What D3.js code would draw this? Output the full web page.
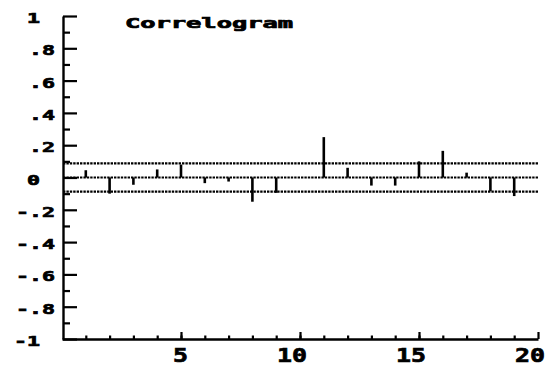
<!DOCTYPE html>
<html>
<head>
<meta charset="utf-8">
<script src="https://cdn.jsdelivr.net/npm/d3@7/dist/d3.min.js"></script>
<style>
  html, body { margin: 0; padding: 0; background: #fff; }
  svg { display: block; }
  text { font-family: "DejaVu Sans Mono", "Liberation Mono", monospace; font-weight: bold; fill: #000; stroke: #000; stroke-width: 0.7px; }
</style>
</head>
<body>
<svg id="chart" width="553" height="372"></svg>
<script>
// Autocorrelation at each lag
const lags = [1, 2, 3, 4, 5, 6, 7, 8, 9, 10, 11, 12, 13, 14, 15, 16, 17, 18, 19];
const acf = [0.045, -0.10, -0.045, 0.05, 0.08, -0.035, -0.025, -0.15, -0.095, 0.0,
             0.25, 0.06, -0.05, -0.05, 0.10, 0.165, 0.03, -0.085, -0.115];

// Confidence band (+/-) and zero line
const bandLevels = [0.088, 0, -0.088];

// Axis ticks and labels
const yMajor = [1, 0.8, 0.6, 0.4, 0.2, 0, -0.2, -0.4, -0.6, -0.8, -1];
const yMinor = [0.9, 0.7, 0.5, 0.3, 0.1, -0.1, -0.3, -0.5, -0.7, -0.9];
const yLabels = ["1", ".8", ".6", ".4", ".2", "0", "-.2", "-.4", "-.6", "-.8", "-1"];
const xMajor = [5, 10, 15, 20];
const xMinor = d3.range(1, 20);
const xLabels = ["5", "10", "15", "20"];
const title = "Correlogram";

const svg = d3.select("#chart");

const x = d3.scaleLinear().domain([0, 20]).range([62, 538]);
const y = d3.scaleLinear().domain([-1, 1]).range([339, 16]);

// Y axis: line with ticks pointing right
const yAxisMajor = d3.axisRight(y).tickValues(yMajor).tickSize(14).tickSizeOuter(0).tickFormat("");
const yAxisMinor = d3.axisRight(y).tickValues(yMinor).tickSize(7).tickSizeOuter(0).tickFormat("");
const gy = svg.append("g").attr("transform", `translate(${x(0) + 1},0)`);
gy.call(yAxisMajor);
gy.append("g").call(yAxisMinor).select(".domain").remove();

// X axis: line with ticks pointing up
const xAxisMajor = d3.axisTop(x).tickValues(xMajor).tickSize(7).tickSizeOuter(0).tickFormat("");
const xAxisMinor = d3.axisTop(x).tickValues(xMinor).tickSize(3.5).tickSizeOuter(0).tickFormat("");
const gx = svg.append("g").attr("transform", `translate(0,${y(-1)})`);
gx.call(xAxisMajor);
gx.append("g").call(xAxisMinor).select(".domain").remove();

svg.selectAll(".domain").attr("stroke", "#000").attr("stroke-width", 2.4);
svg.selectAll(".tick line").attr("stroke", "#000").attr("stroke-width", 2.2);

// Y tick labels: fractions end one column further right than whole numbers
svg.append("g").selectAll("text")
  .data(yMajor)
  .join("text")
  .attr("x", (d, i) => yLabels[i].includes(".") ? 55 : 40)
  .attr("y", d => y(d) + 7)
  .attr("text-anchor", "end")
  .attr("font-size", 14)
  .attr("textLength", (d, i) => yLabels[i].length * 13)
  .attr("lengthAdjust", "spacingAndGlyphs")
  .text((d, i) => yLabels[i]);

// X tick labels: last digit sits over its tick
svg.append("g").selectAll("text")
  .data(xMajor)
  .join("text")
  .attr("x", d => x(d) + 7)
  .attr("y", 362)
  .attr("text-anchor", "end")
  .attr("font-size", 20)
  .attr("textLength", (d, i) => xLabels[i].length * 15)
  .attr("lengthAdjust", "spacingAndGlyphs")
  .text((d, i) => xLabels[i]);

// Dotted band and zero lines
svg.append("g").selectAll("line")
  .data(bandLevels)
  .join("line")
  .attr("x1", x(0) + 1)
  .attr("x2", x(20))
  .attr("y1", d => y(d))
  .attr("y2", d => y(d))
  .attr("stroke", "#000")
  .attr("stroke-width", 2.2)
  .attr("stroke-dasharray", "2.4,1");

// Correlation spikes from zero
svg.append("g").selectAll("line")
  .data(lags)
  .join("line")
  .attr("x1", d => x(d))
  .attr("x2", d => x(d))
  .attr("y1", y(0))
  .attr("y2", (d, i) => y(acf[i]))
  .attr("stroke", "#000")
  .attr("stroke-width", 2.6);

// Title
svg.append("text")
  .attr("x", 125)
  .attr("y", 28)
  .attr("font-size", 14)
  .attr("textLength", 168)
  .attr("lengthAdjust", "spacingAndGlyphs")
  .text(title);
</script>
</body>
</html>
